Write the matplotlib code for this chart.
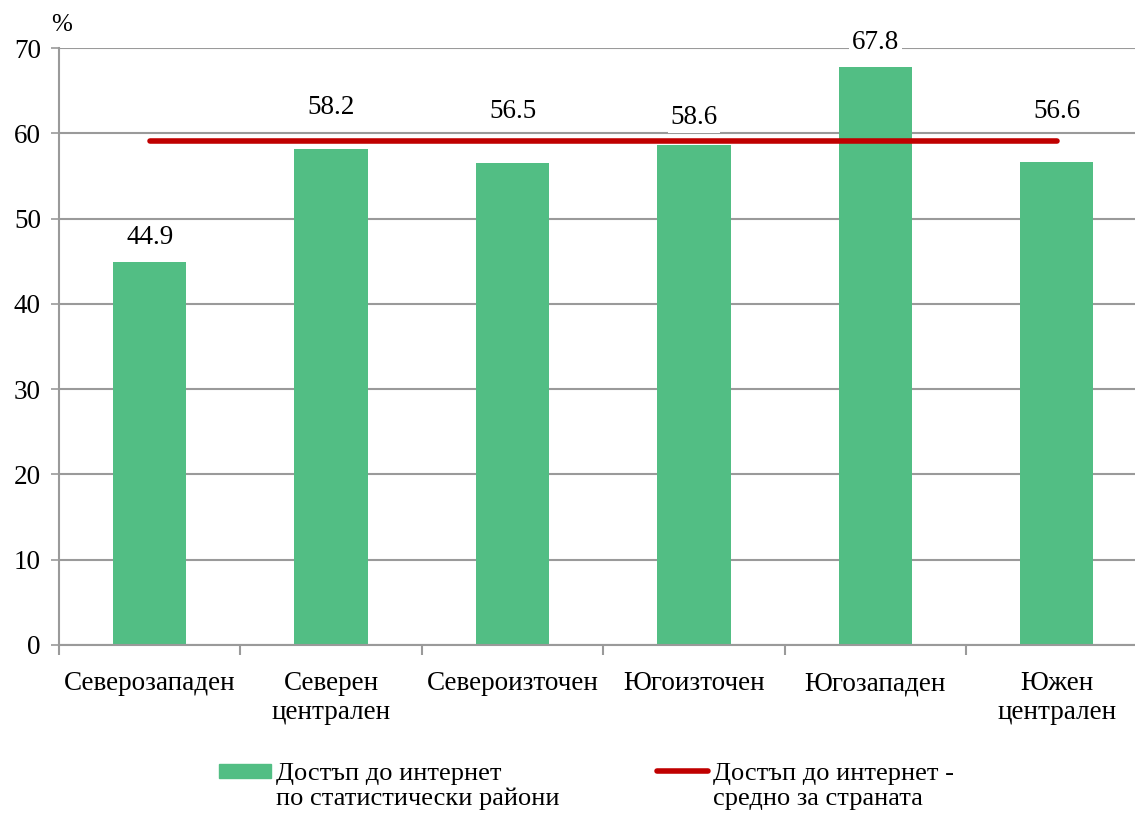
#!/usr/bin/env python3

import numpy as np
import matplotlib
matplotlib.use('Agg')
import matplotlib.pyplot as plt
from matplotlib.patches import Rectangle
from matplotlib.lines import Line2D

regions = ['Северозападен', 'Северен\nцентрален', 'Североизточен',
           'Югоизточен', 'Югозападен', 'Южен\nцентрален']
access = [44.9, 58.2, 56.5, 58.6, 67.8, 56.6]
country_avg = 59.1

bar_label = 'Достъп до интернет\nпо статистически райони'
line_label = 'Достъп до интернет -\nсредно за страната'

GREEN = '#52BE84'
RED = '#C00000'
GRID = '#9A9A9A'
FS = 19.5


def main():
    plt.rcParams['font.family'] = ['Liberation Serif', 'DejaVu Serif']
    fig = plt.figure(figsize=(11.35, 8.16), dpi=100)
    W, H = 1135, 816
    # axes in pixel terms: left 59, y0 at 645, y70 at 48, category width ~181.4
    left, right = 59, 59 + 6 * 181.4
    ax = fig.add_axes([left / W, 1 - 645 / H, (right - left) / W, (645 - 48) / H])

    x = np.arange(len(regions))
    ax.bar(x, access, width=0.405, color=GREEN, zorder=2)
    ax.plot([x[0], x[-1]], [country_avg, country_avg], color=RED, lw=4,
            solid_capstyle='round', zorder=3)

    # labels were moved by hand in the original so they clear the average line
    label_y = [47.8, 63.0, 62.5, 61.8, 70.7, 62.5]
    for xi, v, ly in zip(x, access, label_y):
        ax.text(xi, ly, '{:.1f}'.format(v), ha='center', va='center', fontsize=FS,
                bbox=dict(facecolor='white', edgecolor='none', pad=2), zorder=4,
                clip_on=False)

    ax.set_xlim(-0.5, len(regions) - 0.5)
    ax.set_ylim(0, 70)
    ax.set_yticks(range(0, 71, 10))
    ax.yaxis.grid(True, color=GRID, lw=1.5, zorder=0)
    ax.set_axisbelow(True)
    ax.tick_params(axis='y', length=6, width=1.2, color=GRID, labelsize=FS, pad=7)

    ax.set_xticks(np.arange(-0.5, len(regions), 1.0))
    ax.set_xticklabels([])
    ax.set_xticks(x, minor=True)
    ax.set_xticklabels(regions, minor=True, fontsize=FS, linespacing=1.2)
    ax.tick_params(axis='x', which='major', length=7, width=1.5, color=GRID)
    ax.tick_params(axis='x', which='minor', length=0, pad=19)

    for s in ['top', 'right']:
        ax.spines[s].set_visible(False)
    for s in ['left', 'bottom']:
        ax.spines[s].set_color(GRID)
        ax.spines[s].set_linewidth(1.5)

    fig.text(62 / W, 1 - 25 / H, '%', ha='center', va='center', fontsize=18)

    # legend
    fig.patches.append(Rectangle((219 / W, 1 - 778 / H), 52 / W, 14 / H,
                                 color=GREEN, transform=fig.transFigure, figure=fig))
    fig.text(276 / W, 1 - 763 / H, bar_label, ha='left', va='top', fontsize=19,
             linespacing=1.17)
    fig.lines.append(Line2D([657 / W, 708 / W], [1 - 771 / H, 1 - 771 / H], color=RED,
                            lw=4, solid_capstyle='round', transform=fig.transFigure))
    fig.text(713 / W, 1 - 763 / H, line_label, ha='left', va='top', fontsize=19,
             linespacing=1.17)

    fig.savefig('out.png', dpi=100)


if __name__ == '__main__':
    main()
